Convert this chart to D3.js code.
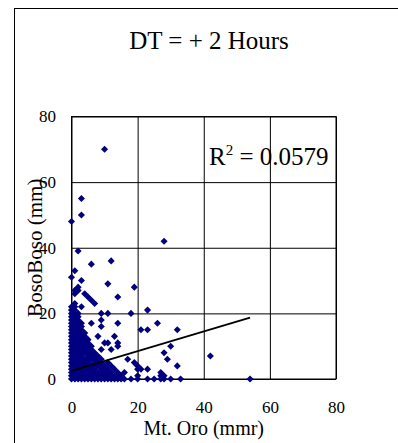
<!DOCTYPE html>
<html>
<head>
<meta charset="utf-8">
<script src="https://cdn.jsdelivr.net/npm/d3@7/dist/d3.min.js"></script>
<style>
  body { margin: 0; background: #fff; }
  svg text { font-family: "Liberation Serif", "Times New Roman", serif; fill: #000; }
</style>
</head>
<body>
<svg id="chart" width="398" height="443"></svg>
<script>
// axis ticks, both axes 0..80
const xTicks = [0, 20, 40, 60, 80];
const yTicks = [0, 20, 40, 60, 80];

// rows of the scatter: [BosoBoso mm, [Mt. Oro values at that BosoBoso value]]
const bosoRows = [
  [0,  [0,1,2,3,4,5,6,7,8,9,10,11,12,13,14,15,16,18,20,23,25,27,28,30,33,54]],
  [1,  [0,1,2,3,4,5,6,7,8,9,10,11,12,13,14,15,20,27,28]],
  [2,  [0,1,2,3,4,5,6,7,8,9,10,11,12,14,16,27]],
  [3,  [0,1,2,3,4,5,6,7,9,10,11,13,20,21,23]],
  [4,  [0,1,2,3,4,5,6,7,8,9,10,12,20,32]],
  [5,  [0,1,2,3,4,5,7,8,9,11,19]],
  [6,  [0,1,2,3,4,5,6,7,8,9,17,29]],
  [7,  [0,1,2,3,5,6,7,8,42]],
  [8,  [0,1,2,3,4,5,6,7,28]],
  [9,  [0,1,2,3,4,5,6,9,12]],
  [10, [0,1,2,3,4,5,6,14,30]],
  [11, [0,1,2,3,4,5,10,11,14]],
  [12, [0,1,2,3,4,5]],
  [13, [0,1,2,3,4,8,13]],
  [14, [0,1,2,3,4]],
  [15, [0,1,2,3,21,23,32]],
  [16, [0,1,2,3,9]],
  [17, [0,1,2,3,6,14,26]],
  [18, [0,1,2,9]],
  [19, [0,1,2]],
  [20, [0,1,2,9,11,18]],
  [21, [0,1,23]],
  [22, [0,1,3]],
  [23, [1,7]],
  [24, [6]],
  [25, [5,14]],
  [26, [1,4]],
  [27, [1,2]],
  [28, [2,19]],
  [29, [11]],
  [30, [3]],
  [31, [0]],
  [33, [1]],
  [35, [6]],
  [36, [12]],
  [39, [2]],
  [42, [28]],
  [48, [0]],
  [50, [3]],
  [55, [3]],
  [70, [10]]
];

// linear trend line end points
const trendOro = [0, 54];
const trendBoso = [2.5, 18.7];

const points = bosoRows.flatMap(([boso, oros]) => oros.map(oro => ({ oro, boso })));

const serif = '"Liberation Serif", "Times New Roman", serif';
const svg = d3.select('#chart');

const x = d3.scaleLinear().domain([0, 80]).range([71.5, 336]);
const y = d3.scaleLinear().domain([0, 80]).range([379, 116.5]);
const plotW = x(80) - x(0);
const plotH = y(0) - y(80);

// outer chart border (runs off the right and bottom)
svg.append('rect')
  .attr('x', 14.5).attr('y', 8.5)
  .attr('width', 420).attr('height', 460)
  .attr('fill', 'none').attr('stroke', '#000');

const xAxis = d3.axisBottom(x).tickValues(xTicks).tickSize(-plotH).tickPadding(22);
const yAxis = d3.axisLeft(y).tickValues(yTicks).tickSize(-plotW).tickPadding(15.5);

const gx = svg.append('g').attr('transform', `translate(0,${y(0)})`).call(xAxis);
const gy = svg.append('g').attr('transform', `translate(${x(0)},0)`).call(yAxis);

[gx, gy].forEach(g => {
  g.attr('font-family', serif).attr('font-size', 17);
  g.select('.domain').remove();
  g.selectAll('.tick line').attr('stroke', '#000');
  g.selectAll('.tick text').attr('fill', '#000');
});

svg.append('rect')
  .attr('x', x(0)).attr('y', y(80))
  .attr('width', plotW).attr('height', plotH)
  .attr('fill', 'none').attr('stroke', '#000');

const diamond = d3.symbol(d3.symbolSquare).size(25);

svg.append('g')
  .selectAll('path')
  .data(points)
  .join('path')
  .attr('d', diamond)
  .attr('transform', d => `translate(${x(d.oro)},${y(d.boso)}) rotate(45)`)
  .attr('fill', '#000080');

svg.append('line')
  .attr('x1', x(trendOro[0])).attr('y1', y(trendBoso[0]))
  .attr('x2', x(trendOro[1])).attr('y2', y(trendBoso[1]))
  .attr('stroke', '#000').attr('stroke-width', 1.8);

svg.append('text')
  .attr('x', 209).attr('y', 49)
  .attr('text-anchor', 'middle')
  .attr('font-family', serif)
  .attr('font-size', 25)
  .text('DT = + 2 Hours');

const r2 = svg.append('text')
  .attr('x', 209).attr('y', 164.5)
  .attr('font-family', serif)
  .attr('font-size', 25);
r2.append('tspan').text('R');
r2.append('tspan').attr('dy', -10).attr('font-size', 15).text('2');
r2.append('tspan').attr('dy', 10).text(' = 0.0579');

svg.append('text')
  .attr('x', x(40)).attr('y', 435)
  .attr('text-anchor', 'middle')
  .attr('font-family', serif)
  .attr('font-size', 20)
  .text('Mt. Oro (mmr)');

svg.append('text')
  .attr('transform', `translate(42,${(y(0) + y(80)) / 2}) rotate(-90)`)
  .attr('text-anchor', 'middle')
  .attr('font-family', serif)
  .attr('font-size', 21)
  .text('BosoBoso (mm)');
</script>
</body>
</html>
